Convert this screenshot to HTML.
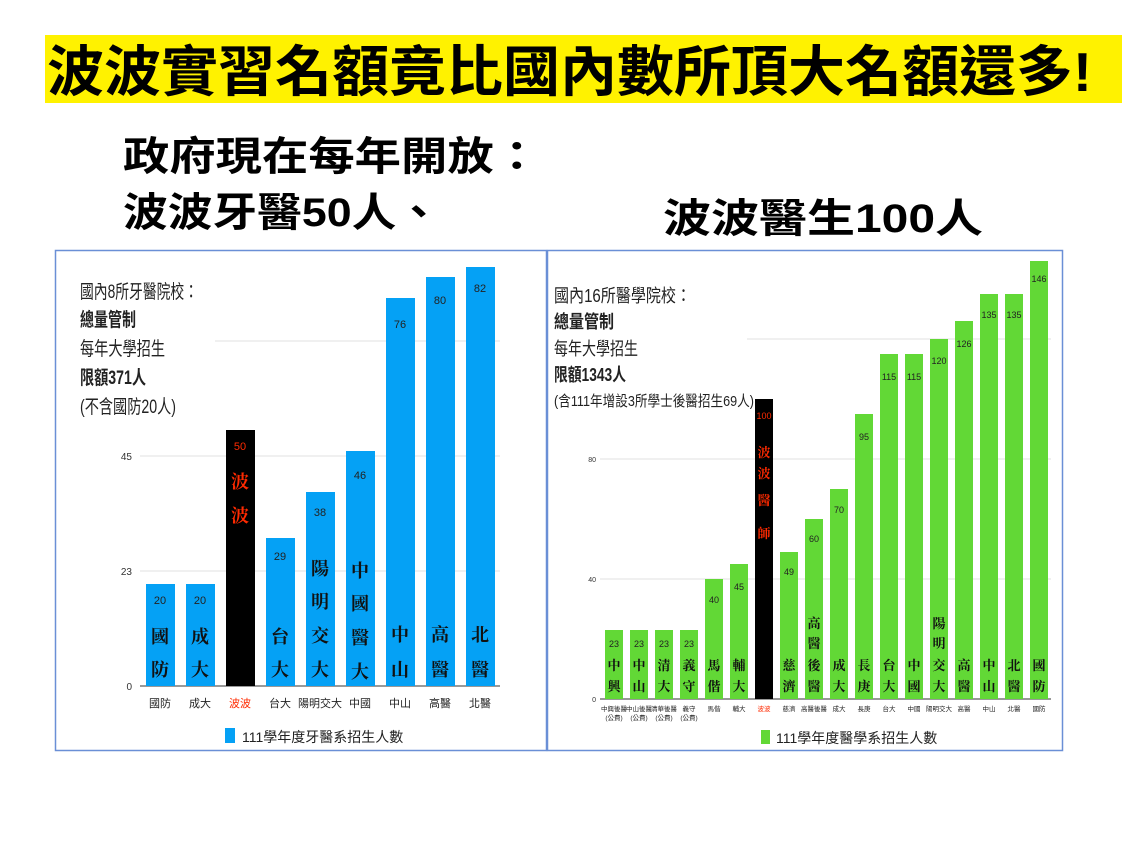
<!DOCTYPE html>
<html><head><meta charset="utf-8"><style>
body{margin:0;background:#fff;}
svg{display:block;font-family:"Liberation Sans","Noto Sans CJK TC",sans-serif;}
</style></head><body>
<svg width="1136" height="851" viewBox="0 0 1136 851" xmlns="http://www.w3.org/2000/svg">
<rect x="45" y="35" width="1077" height="68" fill="#fff200"/>
<text x="47" y="91" font-size="55" font-weight="bold" fill="#000" textLength="1045" lengthAdjust="spacingAndGlyphs">波波實習名額竟比國內數所頂大名額還多!</text>
<text x="123" y="170" font-size="40" font-weight="bold" textLength="417" lengthAdjust="spacingAndGlyphs">政府現在每年開放：</text>
<text x="123" y="226" font-size="40" font-weight="bold" textLength="318" lengthAdjust="spacingAndGlyphs">波波牙醫50人、</text>
<text x="663" y="232" font-size="40" font-weight="bold" textLength="320" lengthAdjust="spacingAndGlyphs">波波醫生100人</text>

<!-- left panel -->
<rect x="55.5" y="250.5" width="491" height="500" fill="none" stroke="#6a8fd6" stroke-width="1.5"/>
<g stroke="#e2e2e2" stroke-width="1">
<line x1="215" y1="341" x2="500" y2="341"/><line x1="140" y1="456" x2="500" y2="456"/><line x1="140" y1="571" x2="500" y2="571"/>
</g>
<line x1="140" y1="686" x2="500" y2="686" stroke="#333"/>
<g font-size="10" fill="#333" text-anchor="end"><text x="132" y="460">45</text><text x="132" y="575">23</text><text x="132" y="690">0</text></g>
<g font-size="19" fill="#222">
<text x="80" y="298" textLength="118" lengthAdjust="spacingAndGlyphs">國內8所牙醫院校：</text>
<text x="80" y="326" font-weight="bold" textLength="56" lengthAdjust="spacingAndGlyphs">總量管制</text>
<text x="80" y="355" textLength="85" lengthAdjust="spacingAndGlyphs">每年大學招生</text>
<text x="80" y="384" font-weight="bold" textLength="66" lengthAdjust="spacingAndGlyphs">限額371人</text>
<text x="80" y="413" textLength="96" lengthAdjust="spacingAndGlyphs">(不含國防20人)</text>
</g>
<g>
<rect x="146" y="584" width="29" height="102" fill="#05a1f5"/>
<rect x="186" y="584" width="29" height="102" fill="#05a1f5"/>
<rect x="226" y="430" width="29" height="256" fill="#000"/>
<rect x="266" y="538" width="29" height="148" fill="#05a1f5"/>
<rect x="306" y="492" width="29" height="194" fill="#05a1f5"/>
<rect x="346" y="451" width="29" height="235" fill="#05a1f5"/>
<rect x="386" y="298" width="29" height="388" fill="#05a1f5"/>
<rect x="426" y="277" width="29" height="409" fill="#05a1f5"/>
<rect x="466" y="267" width="29" height="419" fill="#05a1f5"/>
</g>
<g font-size="11" text-anchor="middle" fill="#222">
<text x="160" y="604">20</text><text x="200" y="604">20</text><text x="240" y="450" fill="#ff2a00">50</text><text x="280" y="560">29</text><text x="320" y="516">38</text><text x="360" y="479">46</text><text x="400" y="328">76</text><text x="440" y="304">80</text><text x="480" y="292">82</text>
</g>
<g font-size="18" font-weight="bold" text-anchor="middle" fill="#111" font-family="'Noto Serif CJK SC',serif">
<text x="160" y="643">國</text><text x="160" y="676">防</text>
<text x="200" y="643">成</text><text x="200" y="676">大</text>
<text x="240" y="488" fill="#ff2a00">波</text><text x="240" y="522" fill="#ff2a00">波</text>
<text x="280" y="643">台</text><text x="280" y="676">大</text>
<text x="320" y="575">陽</text><text x="320" y="608">明</text><text x="320" y="642">交</text><text x="320" y="676">大</text>
<text x="360" y="577">中</text><text x="360" y="610">國</text><text x="360" y="644">醫</text><text x="360" y="678">大</text>
<text x="400" y="641">中</text><text x="400" y="676">山</text>
<text x="440" y="641">高</text><text x="440" y="676">醫</text>
<text x="480" y="641">北</text><text x="480" y="676">醫</text>
</g>
<g font-size="11" text-anchor="middle" fill="#222">
<text x="160" y="707">國防</text><text x="200" y="707">成大</text><text x="240" y="707" fill="#ff2a00">波波</text><text x="280" y="707">台大</text><text x="320" y="707">陽明交大</text><text x="360" y="707">中國</text><text x="400" y="707">中山</text><text x="440" y="707">高醫</text><text x="480" y="707">北醫</text>
</g>
<rect x="225" y="728" width="10" height="15" fill="#05a1f5"/>
<text x="242" y="742" font-size="14" fill="#222">111學年度牙醫系招生人數</text>

<!-- right panel -->
<rect x="547.5" y="250.5" width="515" height="500" fill="none" stroke="#6a8fd6" stroke-width="1.5"/>
<g stroke="#e2e2e2" stroke-width="1">
<line x1="747" y1="339" x2="1051" y2="339"/><line x1="600" y1="459" x2="1051" y2="459"/><line x1="600" y1="579" x2="1051" y2="579"/>
</g>
<line x1="600" y1="699" x2="1051" y2="699" stroke="#333"/>
<g font-size="7" fill="#333" text-anchor="end"><text x="596" y="462">80</text><text x="596" y="582">40</text><text x="596" y="702">0</text></g>
<g font-size="18" fill="#222">
<text x="554" y="302" textLength="137" lengthAdjust="spacingAndGlyphs">國內16所醫學院校：</text>
<text x="554" y="328" font-weight="bold" textLength="60" lengthAdjust="spacingAndGlyphs">總量管制</text>
<text x="554" y="355" textLength="84" lengthAdjust="spacingAndGlyphs">每年大學招生</text>
<text x="554" y="381" font-weight="bold" textLength="72" lengthAdjust="spacingAndGlyphs">限額1343人</text>
<text x="554" y="406" font-size="15" textLength="200" lengthAdjust="spacingAndGlyphs">(含111年增設3所學士後醫招生69人)</text>
</g>
<g fill="#62d836">
<rect x="605" y="630" width="18" height="69"/>
<rect x="630" y="630" width="18" height="69"/>
<rect x="655" y="630" width="18" height="69"/>
<rect x="680" y="630" width="18" height="69"/>
<rect x="705" y="579" width="18" height="120"/>
<rect x="730" y="564" width="18" height="135"/>
<rect x="780" y="552" width="18" height="147"/>
<rect x="805" y="519" width="18" height="180"/>
<rect x="830" y="489" width="18" height="210"/>
<rect x="855" y="414" width="18" height="285"/>
<rect x="880" y="354" width="18" height="345"/>
<rect x="905" y="354" width="18" height="345"/>
<rect x="930" y="339" width="18" height="360"/>
<rect x="955" y="321" width="18" height="378"/>
<rect x="980" y="294" width="18" height="405"/>
<rect x="1005" y="294" width="18" height="405"/>
<rect x="1030" y="261" width="18" height="438"/>
</g>
<rect x="755" y="399" width="18" height="300" fill="#000"/>
<g font-size="9" text-anchor="middle" fill="#222">
<text x="614" y="647">23</text><text x="639" y="647">23</text><text x="664" y="647">23</text><text x="689" y="647">23</text>
<text x="714" y="603">40</text><text x="739" y="590">45</text><text x="764" y="419" fill="#ff2a00">100</text>
<text x="789" y="575">49</text><text x="814" y="542">60</text><text x="839" y="513">70</text><text x="864" y="440">95</text>
<text x="889" y="380">115</text><text x="914" y="380">115</text><text x="939" y="364">120</text><text x="964" y="347">126</text>
<text x="989" y="318">135</text><text x="1014" y="318">135</text><text x="1039" y="282">146</text>
</g>
<g font-size="13" font-weight="bold" text-anchor="middle" fill="#111" font-family="'Noto Serif CJK SC',serif">
<text x="614" y="670">中</text><text x="614" y="691">興</text>
<text x="639" y="670">中</text><text x="639" y="691">山</text>
<text x="664" y="670">清</text><text x="664" y="691">大</text>
<text x="689" y="670">義</text><text x="689" y="691">守</text>
<text x="714" y="670">馬</text><text x="714" y="691">偕</text>
<text x="739" y="670">輔</text><text x="739" y="691">大</text>
<g fill="#ff2a00"><text x="764" y="457">波</text><text x="764" y="478">波</text><text x="764" y="505">醫</text><text x="764" y="538">師</text></g>
<text x="789" y="670">慈</text><text x="789" y="691">濟</text>
<text x="814" y="628">高</text><text x="814" y="648">醫</text><text x="814" y="670">後</text><text x="814" y="691">醫</text>
<text x="839" y="670">成</text><text x="839" y="691">大</text>
<text x="864" y="670">長</text><text x="864" y="691">庚</text>
<text x="889" y="670">台</text><text x="889" y="691">大</text>
<text x="914" y="670">中</text><text x="914" y="691">國</text>
<text x="939" y="628">陽</text><text x="939" y="648">明</text><text x="939" y="670">交</text><text x="939" y="691">大</text>
<text x="964" y="670">高</text><text x="964" y="691">醫</text>
<text x="989" y="670">中</text><text x="989" y="691">山</text>
<text x="1014" y="670">北</text><text x="1014" y="691">醫</text>
<text x="1039" y="670">國</text><text x="1039" y="691">防</text>
</g>
<g font-size="6.5" text-anchor="middle" fill="#222">
<text x="614" y="711">中興後醫</text><text x="639" y="711">中山後醫</text><text x="664" y="711">清華後醫</text><text x="689" y="711">義守</text>
<text x="614" y="720">(公費)</text><text x="639" y="720">(公費)</text><text x="664" y="720">(公費)</text><text x="689" y="720">(公費)</text>
<text x="714" y="711">馬偕</text><text x="739" y="711">輔大</text><text x="764" y="711" fill="#ff2a00">波波</text><text x="789" y="711">慈濟</text>
<text x="814" y="711">高醫後醫</text><text x="839" y="711">成大</text><text x="864" y="711">長庚</text><text x="889" y="711">台大</text>
<text x="914" y="711">中國</text><text x="939" y="711">陽明交大</text><text x="964" y="711">高醫</text><text x="989" y="711">中山</text>
<text x="1014" y="711">北醫</text><text x="1039" y="711">國防</text>
</g>
<rect x="761" y="730" width="9" height="14" fill="#62d836"/>
<text x="776" y="743" font-size="14" fill="#222">111學年度醫學系招生人數</text>
</svg>
</body></html>
